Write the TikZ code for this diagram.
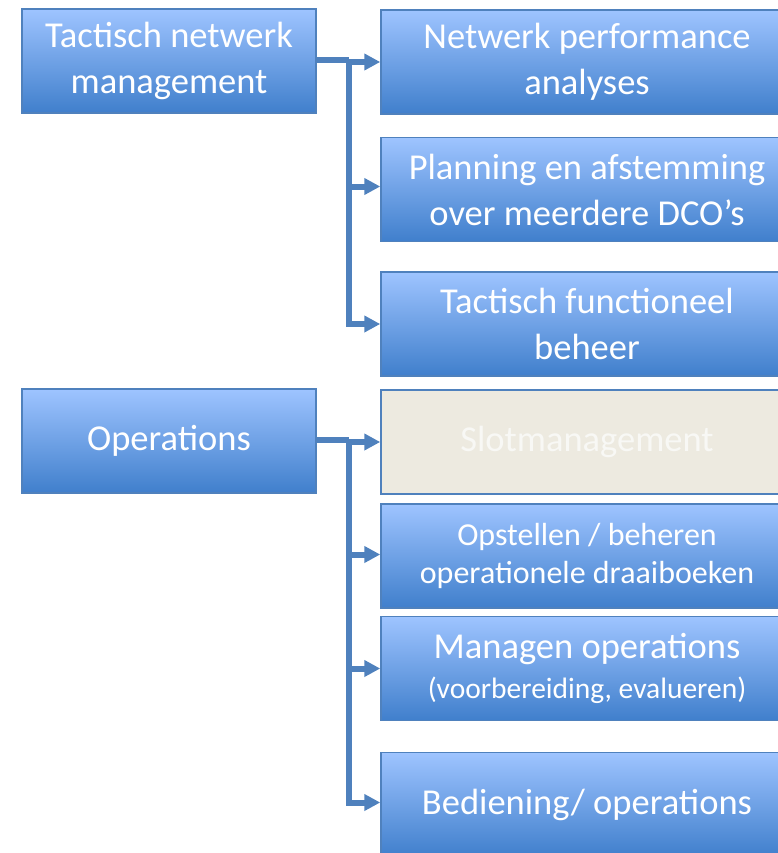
\documentclass[tikz,border=0pt]{standalone}
\usepackage{fontspec}
\setmainfont{Carlito}
\usetikzlibrary{arrows.meta}
\definecolor{accent}{RGB}{79,129,189}
\definecolor{boxtop}{RGB}{158,196,255}
\definecolor{boxmid}{RGB}{122,166,234}
\definecolor{boxbot}{RGB}{64,127,204}
\definecolor{slotfill}{RGB}{237,234,224}
\definecolor{slottext}{RGB}{248,248,245}
\newcommand{\bigtxt}{\fontsize{36.5}{46}\selectfont}
\newcommand{\midtxt}{\fontsize{32}{37.5}\selectfont}
\newcommand{\smalltxt}{\fontsize{29.5}{34}\selectfont}
\tikzset{
  task/.style={draw=accent, line width=1.5pt, top color=boxtop, middle color=boxmid,
    bottom color=boxbot, text=white, align=center, inner sep=0pt,
    minimum height=104pt, font=\bigtxt},
  lbox/.style={task, minimum width=294pt},
  rbox/.style={task, minimum width=412pt},
  slotbox/.style={fill=slotfill, top color=slotfill, bottom color=slotfill, text=slottext},
  link/.style={draw=accent, line width=6pt}
}
\begin{document}
\begin{tikzpicture}[x=1pt,y=-1pt,>={Triangle[length=16pt,width=16pt]}]
\useasboundingbox (0,0) rectangle (778,853);
\clip (0,0) rectangle (778,853);

\node[lbox] (tnm) at (169,61) {Tactisch netwerk\\management};
\node[lbox] (ops) at (169,441) {Operations};

\node[rbox] (npa) at (587,62) {Netwerk performance\\analyses};
\node[rbox] (pad) at (587,189.5) {Planning en afstemming\\over meerdere DCO’s};
\node[rbox] (tfb) at (587,324) {Tactisch functioneel\\beheer};

\node[rbox, slotbox] (slm) at (587,442) {Slotmanagement};
\node[rbox, font=\midtxt] (opd) at (587,556) {Opstellen / beheren\\operationele draaiboeken};
\node[rbox] (mop) at (587,668.5) {Managen operations\\[-6pt]{\smalltxt (voorbereiding, evalueren)}};
\node[rbox] (bop) at (587,804.5) {Bediening/ operations};

\coordinate (j1) at (349,60);
\coordinate (j2) at (349,440);

\draw[link] (tnm.east |- j1) -- (j1);
\draw[link,->] (j1) |- (npa.west);
\draw[link,->] (j1) |- ([yshift=3pt]pad.west);
\draw[link,->] (j1) |- (tfb.west);

\draw[link] (ops.east |- j2) -- (j2);
\draw[link,->] (j2) |- (slm.west);
\draw[link,->] (j2) |- ([yshift=1.5pt]opd.west);
\draw[link,->] (j2) |- (mop.west);
\draw[link,->] (j2) |- ([yshift=2pt]bop.west);
\end{tikzpicture}
\end{document}
